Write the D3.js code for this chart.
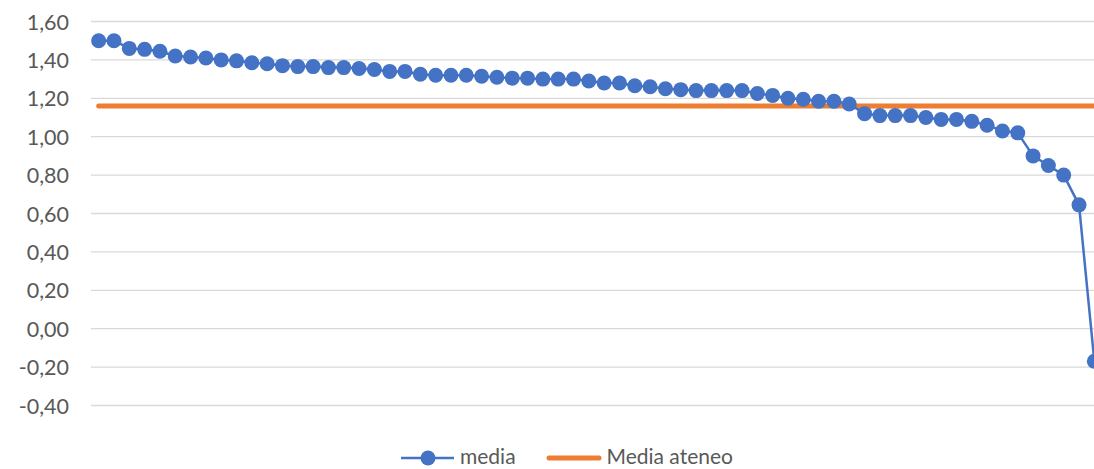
<!DOCTYPE html>
<html>
<head>
<meta charset="utf-8">
<script src="https://cdn.jsdelivr.net/npm/d3@7"></script>
<style>
  html, body { margin: 0; padding: 0; background: #fff; overflow: hidden; }
  svg { display: block; font-family: Lato, "Open Sans", sans-serif; }
</style>
</head>
<body>
<svg id="chart" width="1094" height="469"></svg>
<script>
// ---- data ----
const categories = d3.range(1, 67);
const media = [
  1.50, 1.50, 1.46, 1.455, 1.445, 1.42, 1.415, 1.41, 1.40, 1.395,
  1.385, 1.38, 1.37, 1.365, 1.365, 1.36, 1.36, 1.355, 1.35, 1.34,
  1.34, 1.325, 1.32, 1.32, 1.32, 1.315, 1.31, 1.305, 1.305, 1.30,
  1.30, 1.30, 1.29, 1.28, 1.28, 1.265, 1.26, 1.25, 1.245, 1.24,
  1.24, 1.24, 1.24, 1.225, 1.215, 1.20, 1.195, 1.185, 1.185, 1.17,
  1.12, 1.11, 1.11, 1.11, 1.10, 1.09, 1.09, 1.08, 1.06, 1.03,
  1.02, 0.90, 0.85, 0.80, 0.645, -0.17
];
const mediaAteneo = 1.16;
const yTicks = [-0.40, -0.20, 0.00, 0.20, 0.40, 0.60, 0.80, 1.00, 1.20, 1.40, 1.60];
const seriesNames = ["media", "Media ateneo"];

// ---- layout ----
const svg = d3.select("#chart");
const plot = { left: 91, right: 1102, top: 21.5, bottom: 405.5 };
const blue = "#4472C4", orange = "#ED7D31", grid = "#D9D9D9", textCol = "#595959";

const x = d3.scaleBand().domain(categories).range([plot.left, plot.right]);
const cx = d => x(d) + x.bandwidth() / 2;
const y = d3.scaleLinear().domain([-0.4, 1.6]).range([plot.bottom, plot.top]);

const locale = d3.formatLocale({ decimal: ",", thousands: ".", grouping: [3], currency: ["", "€"], minus: "-" });
const fmt = locale.format(".2f");

// gridlines
svg.append("g").selectAll("line").data(yTicks).join("line")
  .attr("x1", plot.left).attr("x2", plot.right)
  .attr("y1", d => y(d)).attr("y2", d => y(d))
  .attr("stroke", grid).attr("stroke-width", 1.3);

// y axis labels
const yAxis = d3.axisLeft(y).tickValues(yTicks).tickFormat(fmt).tickSize(0).tickPadding(0);
const ga = svg.append("g").attr("transform", `translate(69,0)`).call(yAxis);
ga.select(".domain").remove();
ga.selectAll("text").attr("fill", textCol).style("font-size", "21.5px")
  .style("font-family", "Lato, 'Open Sans', sans-serif").attr("dy", "0.35em");

// Media ateneo line
const pts = categories.map((c, i) => ({ c, v: media[i] }));
svg.append("path")
  .datum(categories)
  .attr("fill", "none").attr("stroke", orange).attr("stroke-width", 5)
  .attr("stroke-linecap", "round")
  .attr("d", d3.line().x(d => cx(d)).y(() => y(mediaAteneo)));

// media line
svg.append("path")
  .datum(pts)
  .attr("fill", "none").attr("stroke", blue).attr("stroke-width", 2.5)
  .attr("stroke-linejoin", "round")
  .attr("d", d3.line().x(d => cx(d.c)).y(d => y(d.v)));

svg.append("g").selectAll("circle").data(pts).join("circle")
  .attr("cx", d => cx(d.c)).attr("cy", d => y(d.v)).attr("r", 7.5)
  .attr("fill", blue);

// legend
const lg = svg.append("g");
const ly = 458;
const tb = 464;
lg.append("line").attr("x1", 401).attr("x2", 454).attr("y1", ly).attr("y2", ly)
  .attr("stroke", blue).attr("stroke-width", 2.5);
lg.append("circle").attr("cx", 428).attr("cy", ly).attr("r", 7.5).attr("fill", blue);
lg.append("text").attr("x", 460).attr("y", tb)
  .attr("fill", textCol).style("font-size", "21px").text(seriesNames[0]);
lg.append("line").attr("x1", 549).attr("x2", 599).attr("y1", ly).attr("y2", ly)
  .attr("stroke", orange).attr("stroke-width", 5).attr("stroke-linecap", "round");
lg.append("text").attr("x", 606.5).attr("y", tb)
  .attr("fill", textCol).style("font-size", "21px").text(seriesNames[1]);
</script>
</body>
</html>
